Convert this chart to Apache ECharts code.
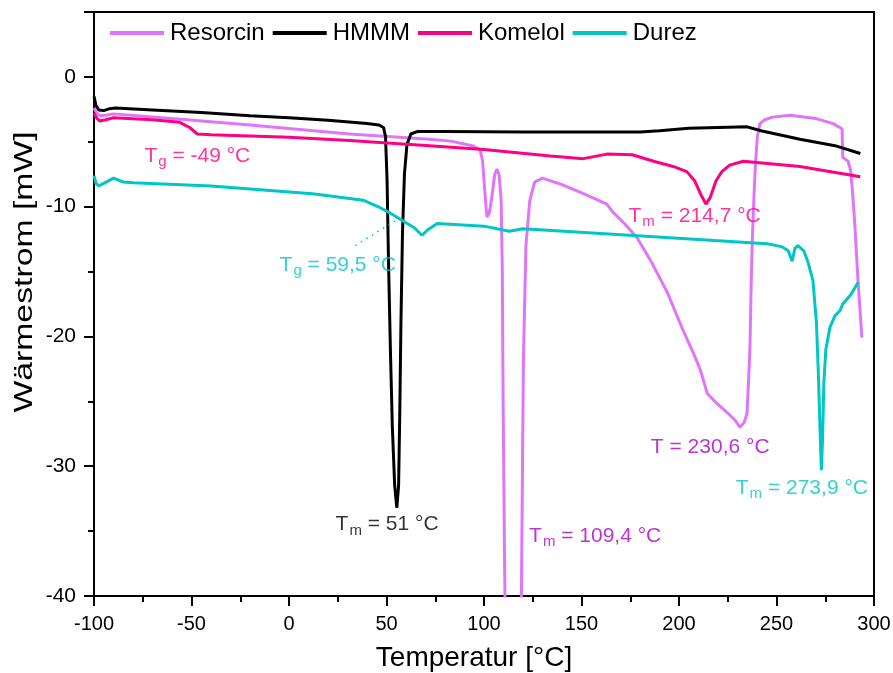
<!DOCTYPE html>
<html>
<head>
<meta charset="utf-8">
<script src="https://cdn.jsdelivr.net/npm/echarts@6/dist/echarts.min.js"></script>
<style>
  html, body { margin: 0; padding: 0; background: #fff; }
  #chart { width: 893px; height: 673px; }
</style>
</head>
<body>
<div id="chart"></div>
<script>
// DSC curves, [temperature °C, heat flow mW]
var resorcin = [
  [-100,-2.4],[-98.5,-2.8],[-97,-3.0],[-94,-2.95],[-90,-2.85],[-60,-3.2],[-20,-3.7],[31,-4.4],
  [72,-4.8],[83,-4.95],[94,-5.3],[98,-5.6],[99.3,-6.5],[100.5,-9],[101.5,-10.8],[102.7,-10.5],
  [104,-9.3],[105.5,-7.5],[106.7,-7.1],[107.8,-7.6],[108.8,-9.5],[109.4,-15],[109.8,-25],
  [110.6,-38],[111.5,-50],[118.5,-50],[119.3,-38],[120.2,-22],[121.5,-13],[123.5,-9.5],
  [126,-8.1],[130,-7.8],[140,-8.3],[151,-9.0],[163,-9.8],[166,-10.4],[172,-11.3],[178.5,-12.4],
  [186,-14.3],[194,-16.6],[202,-19.5],[208,-21.5],[211,-22.6],[214.5,-24.4],[219,-25.1],
  [225,-25.9],[229,-26.5],[231.3,-27.0],[233.5,-26.6],[234.9,-25.9],[235.8,-23],[236.4,-20.8],
  [237,-16],[237.6,-12.5],[238.5,-9],[239.3,-6.5],[240.2,-4.6],[241.5,-3.6],[244,-3.3],
  [248,-3.1],[257,-2.95],[270,-3.2],[279,-3.6],[283.6,-4.0],[284,-6.2],[286.7,-6.5],[288,-7.2],
  [288.8,-8.5],[290,-11],[291.8,-15.7],[293.8,-20.1]
];
var hmmm = [
  [-100,-1.5],[-99,-2.2],[-97.5,-2.55],[-95,-2.6],[-92,-2.45],[-89,-2.4],[-70,-2.55],[-45,-2.75],
  [-20,-3.0],[0,-3.15],[20,-3.35],[40,-3.6],[46,-3.7],[48.5,-3.9],[49.5,-4.6],[50.3,-8],[51,-14],
  [52,-21],[53,-27],[54.2,-31.5],[55.3,-33.2],[56.2,-31.5],[56.8,-26],[57.4,-19],[58.2,-12],
  [59.2,-7.5],[60.5,-5.2],[62.5,-4.4],[66,-4.2],[80,-4.2],[120,-4.25],[150,-4.25],[180,-4.25],
  [190,-4.15],[205,-3.95],[220,-3.9],[235,-3.85],[242,-4.15],[262,-4.8],[280,-5.3],[293,-5.9]
];
var komelol = [
  [-100,-2.8],[-98.5,-3.2],[-97,-3.4],[-94,-3.3],[-90,-3.15],[-70,-3.3],[-56,-3.5],[-51,-3.9],
  [-47,-4.4],[-40,-4.45],[0,-4.65],[31,-4.9],[72,-5.3],[100,-5.6],[134,-6.1],[151,-6.3],
  [163,-5.95],[176,-6.0],[187,-6.5],[197,-6.9],[204,-7.3],[208,-8.0],[211,-9.0],[213.8,-9.8],
  [216,-9.3],[219,-8.0],[222,-7.3],[226,-6.8],[233,-6.5],[262,-6.9],[293,-7.7]
];
var durez = [
  [-100,-7.6],[-99,-8.2],[-97.5,-8.4],[-95,-8.2],[-90,-7.8],[-85,-8.1],[-80,-8.15],[-40,-8.4],
  [12,-9.0],[38,-9.5],[47,-10.1],[52,-10.5],[64,-11.6],[68.2,-12.2],[71,-11.8],[76,-11.3],
  [100,-11.5],[113,-11.9],[120,-11.7],[185,-12.3],[245,-12.85],[253,-13.1],[256,-13.4],
  [258,-14.2],[259.5,-13.2],[261,-13.0],[264,-13.4],[266,-14.2],[268.7,-15.7],[270.5,-19],
  [271.5,-23],[272.5,-28],[273,-30.3],[273.6,-28],[274.3,-23.5],[275.3,-21],[277.4,-19.3],
  [280,-18.4],[282.6,-18],[284,-17.5],[288,-16.8],[292,-15.8]
];

var seriesNames = ['Resorcin', 'HMMM', 'Komelol', 'Durez'];
var seriesColors = ['#e075fc', '#000000', '#ff0080', '#00c6c6'];

// annotations: [x, y, main, subscript, rest, colour]
var notes = [
  [-47, -6.1, 'T', 'g', ' = -49 °C', '#ff0080'],
  [25, -14.5, 'T', 'g', ' = 59,5 °C', '#00c6c6'],
  [208, -10.7, 'T', 'm', ' = 214,7 °C', '#ff0080'],
  [216, -28.5, 'T', '', ' = 230,6 °C', '#aa00cc'],
  [263, -31.7, 'T', 'm', ' = 273,9 °C', '#00c6c6'],
  [50.3, -34.5, 'T', 'm', ' = 51 °C', '#000000'],
  [157, -35.4, 'T', 'm', ' = 109,4 °C', '#aa00cc']
];
var tgLeader = [[34, -13], [55.5, -11]];

var font = 'Liberation Sans, Arial, sans-serif';
var chart = echarts.init(document.getElementById('chart'));

var lines = [resorcin, hmmm, komelol, durez].map(function (d, i) {
  return {
    name: seriesNames[i],
    type: 'line',
    data: d,
    showSymbol: false,
    symbol: 'none',
    clip: true,
    lineStyle: { color: seriesColors[i], width: 3 },
    itemStyle: { color: seriesColors[i] },
    z: 2 + i
  };
});

lines.push({
  type: 'line',
  data: tgLeader,
  symbol: 'none',
  silent: true,
  lineStyle: { color: '#00c6c6', width: 1.5, type: [1.5, 5] },
  z: 10
});

lines.push({
  type: 'scatter',
  symbolSize: 1,
  silent: true,
  itemStyle: { color: 'rgba(0,0,0,0)' },
  z: 11,
  data: notes.map(function (n) {
    var txt = '{t|' + n[2] + '}' + (n[3] ? '{s|' + n[3] + '}' : '') + '{t|' + n[4] + '}';
    return {
      value: [n[0], n[1]],
      label: {
        show: true,
        position: 'inside',
        formatter: txt,
        color: n[5],
        rich: {
          t: { fontSize: 21, fontFamily: font, color: n[5] },
          s: { fontSize: 15, fontFamily: font, color: n[5], padding: [12, 0, 0, 1] }
        }
      }
    };
  })
});

chart.setOption({
  animation: false,
  textStyle: { fontFamily: font },
  grid: {
    left: 94, right: 19, top: 12, bottom: 77,
    outerBoundsMode: 'none',
    show: true, borderColor: '#000', borderWidth: 2, backgroundColor: 'transparent'
  },
  legend: {
    data: seriesNames,
    left: 105,
    top: 16,
    icon: 'rect',
    itemWidth: 54,
    itemHeight: 4,
    itemGap: 8,
    textStyle: { fontSize: 24, color: '#000', fontFamily: font, padding: [0, 0, 0, 1] }
  },
  xAxis: {
    type: 'value',
    min: -100,
    max: 300,
    interval: 50,
    name: 'Temperatur [°C]',
    nameLocation: 'middle',
    nameGap: 48,
    nameTextStyle: { fontSize: 28, color: '#000', padding: [0, 20, 0, 0] },
    axisLine: { onZero: false, lineStyle: { color: '#000', width: 2 } },
    axisTick: { inside: false, length: 10, lineStyle: { width: 2 } },
    minorTick: { show: true, splitNumber: 2, length: 6, lineStyle: { color: '#000', width: 2 } },
    axisLabel: { fontSize: 20, color: '#000', margin: 18 },
    splitLine: { show: false }
  },
  yAxis: {
    type: 'value',
    min: -40,
    max: 5,
    interval: 10,
    axisLine: { show: true, onZero: false, lineStyle: { color: '#000', width: 2 } },
    axisTick: { show: true, inside: false, length: 10, lineStyle: { width: 2 } },
    minorTick: { show: true, splitNumber: 2, length: 6, lineStyle: { color: '#000', width: 2 } },
    axisLabel: { fontSize: 21, color: '#000', margin: 18, showMaxLabel: false },
    splitLine: { show: false }
  },
  graphic: [{
    type: 'text',
    x: 25,
    y: 272,
    rotation: Math.PI / 2,
    scaleX: 1.35,
    style: {
      text: 'Wärmestrom [mW]',
      font: '25px ' + font,
      fill: '#000',
      textAlign: 'center',
      textVerticalAlign: 'middle'
    }
  }],
  series: lines
});
</script>
</body>
</html>
